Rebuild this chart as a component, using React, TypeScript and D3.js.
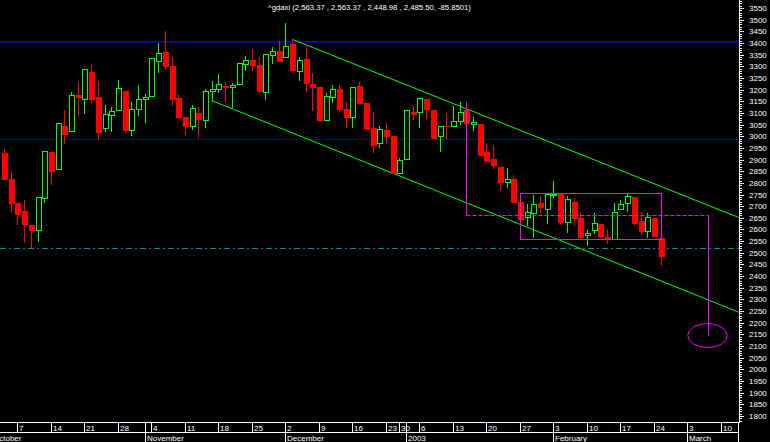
import React from "react";
import * as d3 from "d3";

const WIDTH = 770;
const HEIGHT = 442;

// OHLC of the daily candles, first candle = 3 Oct 2002, last = 25 Feb 2003
const opens = [
  2927, 2816, 2714, 2679, 2619, 2597, 2734, 2932, 2858, 3044,
  3024, 3177, 3158, 3275, 3168, 3034, 3092, 3111, 3194, 3028,
  3118, 3158, 3171, 3321, 3361, 3301, 3164, 3082, 3044, 3098,
  3068, 3195, 3203, 3215, 3212, 3223, 3308, 3327, 3305, 3188,
  3347, 3367, 3338, 3396, 3281, 3331, 3224, 3210, 3068, 3170,
  3201, 3117, 3081, 3215, 3142, 3035, 2972, 3027, 3001, 2844,
  2904, 3105, 3105, 3160, 3112, 3002, 3045, 3044, 3067, 3112,
  3051, 3052, 2932, 2902, 2868, 2805, 2816, 2718, 2654, 2669,
  2712, 2689, 2747, 2752, 2631, 2718, 2648, 2575, 2597, 2622,
  2568, 2559, 2687, 2712, 2738, 2636, 2592, 2649, 2563.37,
];
const highs = [
  2945, 2851, 2714, 2726, 2619, 2738, 2935, 2932, 3055, 3112,
  3190, 3233, 3287, 3304, 3237, 3133, 3125, 3241, 3194, 3145,
  3218, 3180, 3334, 3401, 3451, 3340, 3180, 3082, 3133, 3124,
  3201, 3237, 3267, 3228, 3230, 3313, 3344, 3374, 3340, 3351,
  3384, 3407, 3487, 3416, 3341, 3390, 3272, 3210, 3185, 3218,
  3221, 3147, 3210, 3233, 3142, 3104, 3044, 3055, 3001, 2907,
  3111, 3131, 3163, 3160, 3112, 3044, 3101, 3130, 3146, 3127,
  3081, 3052, 2971, 2962, 2868, 2864, 2834, 2718, 2709, 2747,
  2744, 2751, 2809, 2752, 2744, 2734, 2674, 2598, 2669, 2622,
  2601, 2712, 2726, 2752, 2738, 2674, 2672, 2649, 2563.37,
];
const lows = [
  2815, 2681, 2623, 2548, 2524, 2552, 2719, 2796, 2858, 2972,
  3024, 3088, 3101, 3148, 2989, 3024, 3024, 3111, 3018, 3006,
  3091, 3062, 3171, 3277, 3288, 3134, 3077, 3009, 3032, 2995,
  3041, 3152, 3191, 3151, 3124, 3223, 3285, 3285, 3191, 3158,
  3313, 3323, 3338, 3284, 3241, 3195, 3114, 3071, 3068, 3145,
  3105, 3038, 3038, 3144, 3030, 2934, 2955, 2970, 2844, 2844,
  2904, 3074, 3041, 3077, 2994, 2938, 2994, 3044, 3054, 3055,
  3027, 2921, 2895, 2864, 2771, 2782, 2719, 2646, 2619, 2569,
  2669, 2627, 2741, 2625, 2591, 2619, 2562, 2532, 2586, 2568,
  2541, 2559, 2687, 2681, 2619, 2581, 2569, 2571, 2448.98,
];
const closes = [
  2815, 2715, 2668, 2625, 2599, 2738, 2935, 2852, 3055, 3011,
  3175, 3168, 3287, 3158, 3019, 3094, 3107, 3206, 3028, 3115,
  3158, 3169, 3334, 3358, 3302, 3160, 3082, 3045, 3120, 3073,
  3194, 3201, 3223, 3210, 3218, 3313, 3326, 3307, 3195, 3351,
  3367, 3323, 3387, 3284, 3326, 3230, 3211, 3071, 3172, 3203,
  3115, 3082, 3210, 3144, 3030, 2962, 3030, 3002, 2844, 2898,
  3111, 3097, 3163, 3117, 2994, 3044, 3042, 3065, 3103, 3055,
  3060, 2921, 2895, 2875, 2805, 2816, 2719, 2646, 2674, 2708,
  2698, 2751, 2752, 2633, 2730, 2651, 2569, 2586, 2629, 2573,
  2564, 2676, 2709, 2744, 2627, 2595, 2652, 2571, 2485.5,
];

const titleText = "^gdaxi (2,563.37 , 2,563.37 , 2,448.98 , 2,485.50, -85.8501)";

// trading calendar
const holidays = ["2002-12-24", "2002-12-25", "2002-12-26", "2002-12-31", "2003-01-01"];
const calendarStart = new Date(2002, 9, 1);
const calendarEnd = new Date(2003, 2, 15);
const daysBeforeFirstCandle = 2;

// price axis
const priceLow = 1800;
const priceHigh = 3550;
const minorStep = 10;
const majorStep = 50;

// drawn studies
const resistanceLevel = 3400;
const supportLevel = 2988;
const octoberLow = 2522;
const upperChannel = [
  { i: 43, v: 3416 },
  { i: 109.7, v: 2651 },
];
const lowerChannel = [
  { i: 31, v: 3153 },
  { i: 109.7, v: 2245 },
];
const measuredMove = { i: 69, top: 3148, base: 2661, targetI: 105, target: 2145 };
const rangeBox = { i0: 77, i1: 98.1, hi: 2755, lo: 2558 };

const PLOT_R = 739;
const AXIS_Y = 422;
const ROW2_Y = 432;
const FONT = "'Liberation Sans', Arial, sans-serif";

export default function App() {
  const fmtKey = d3.timeFormat("%Y-%m-%d");
  const tradingDays = d3
    .timeDay.range(calendarStart, calendarEnd)
    .filter((d) => d.getDay() !== 0 && d.getDay() !== 6 && !holidays.includes(fmtKey(d)));

  const x = d3.scaleLinear().domain([-0.597, 109.7]).range([0, PLOT_R]);
  const y = d3.scaleLinear().domain([priceLow, priceHigh]).range([416, 8]);

  const candles = opens.map((o, i) => ({ i, o, h: highs[i], l: lows[i], c: closes[i] }));

  const dayTicks: { px: number; label: string | null }[] = [];
  const monthTicks: { px: number; label: string }[] = [];
  tradingDays.forEach((d, k) => {
    const idx = k - daysBeforeFirstCandle;
    const px = Math.round(x(idx));
    const prev = tradingDays[k - 1];
    const firstOfMonth = !prev || prev.getMonth() !== d.getMonth();
    const monday = d.getDay() === 1;
    if (monday || firstOfMonth) dayTicks.push({ px, label: monday ? String(d.getDate()) : null });
    if (firstOfMonth)
      monthTicks.push({ px, label: d.getMonth() === 0 ? String(d.getFullYear()) : d3.timeFormat("%B")(d) });
  });

  const priceTicks = d3.range(1780, 3590, minorStep).filter((v) => y(v) >= 0 && y(v) <= AXIS_Y);

  const yr = (v: number) => Math.round(y(v));
  const hline = (v: number) => yr(v) + 0.5;

  const channel = d3
    .line<{ i: number; v: number }>()
    .x((p) => x(p.i))
    .y((p) => y(p.v));

  return (
    <div style={{ position: "fixed", left: 0, top: 0 }}>
      <svg width={WIDTH} height={HEIGHT} style={{ display: "block", background: "#000" }}>
        <defs>
          <clipPath id="plot">
            <rect x={0} y={0} width={PLOT_R} height={AXIS_Y} />
          </clipPath>
        </defs>
        <rect x={0} y={0} width={WIDTH} height={HEIGHT} fill="#000" />

        <g clipPath="url(#plot)">
          {/* horizontal levels */}
          <line
            x1={0}
            x2={PLOT_R}
            y1={Math.floor(y(resistanceLevel)) - 0.25}
            y2={Math.floor(y(resistanceLevel)) - 0.25}
            stroke="#0000ff"
            strokeWidth={1.5}
          />
          <line x1={0} x2={PLOT_R} y1={hline(supportLevel)} y2={hline(supportLevel)} stroke="#0000d0" strokeWidth={1} />
          <line
            x1={0}
            x2={PLOT_R}
            y1={hline(octoberLow)}
            y2={hline(octoberLow)}
            stroke="#008c8c"
            strokeWidth={1}
            strokeDasharray="6,3,2,3"
          />

          {/* channel */}
          <path d={channel(upperChannel) || ""} stroke="#00ff00" strokeWidth={1} fill="none" />
          <path d={channel(lowerChannel) || ""} stroke="#00ff00" strokeWidth={1} fill="none" />

          {/* candles */}
          {candles.map((k) => {
            const cx = Math.round(x(k.i));
            const yh = yr(k.h);
            const yl = yr(k.l);
            const up = k.c >= k.o;
            const col = up ? "#00ff00" : "#ff0000";
            const yTop = yr(Math.max(k.o, k.c));
            const yBot = yr(Math.min(k.o, k.c));
            return (
              <g key={k.i} shapeRendering="crispEdges">
                <rect x={cx} y={yh} width={1} height={Math.max(1, yl - yh + 1)} fill={col} />
                {up ? (
                  <rect
                    x={cx - 1.5}
                    y={yTop + 0.5}
                    width={5}
                    height={Math.max(1, yBot - yTop)}
                    fill="#000"
                    stroke={col}
                    strokeWidth={1}
                  />
                ) : (
                  <rect x={cx - 2} y={yTop} width={6} height={Math.max(1, yBot - yTop + 1)} fill={col} />
                )}
              </g>
            );
          })}

          {/* measured move */}
          <g stroke="#ff00ff" strokeWidth={1} fill="none">
            <line
              x1={Math.round(x(measuredMove.i)) + 0.5}
              x2={Math.round(x(measuredMove.i)) + 0.5}
              y1={yr(measuredMove.top)}
              y2={hline(measuredMove.base)}
            />
            <line
              x1={Math.round(x(measuredMove.i)) + 0.5}
              x2={Math.round(x(measuredMove.targetI)) + 0.5}
              y1={hline(measuredMove.base)}
              y2={hline(measuredMove.base)}
              strokeDasharray="4,2"
            />
            <line
              x1={Math.round(x(measuredMove.targetI)) + 0.5}
              x2={Math.round(x(measuredMove.targetI)) + 0.5}
              y1={hline(measuredMove.base)}
              y2={y(measuredMove.target)}
            />
            <ellipse cx={x(measuredMove.targetI)} cy={y(measuredMove.target)} rx={19.7} ry={12} />
            <rect
              x={Math.round(x(rangeBox.i0)) + 0.5}
              y={hline(rangeBox.hi)}
              width={Math.round(x(rangeBox.i1)) - Math.round(x(rangeBox.i0))}
              height={yr(rangeBox.lo) - yr(rangeBox.hi)}
            />
          </g>
        </g>

        {/* title */}
        <text x={PLOT_R / 2} y={9.5} fill="#fff" fontSize={7.7} fontFamily={FONT} textAnchor="middle">
          {titleText}
        </text>

        {/* right price axis */}
        <g shapeRendering="crispEdges">
          <line x1={PLOT_R + 0.5} x2={PLOT_R + 0.5} y1={0} y2={AXIS_Y + 1} stroke="#fff" />
          {priceTicks.map((v) => {
            const major = v % majorStep === 0;
            const ty = hline(v);
            return (
              <line key={v} x1={PLOT_R} x2={PLOT_R + (major ? 4.5 : 2.5)} y1={ty} y2={ty} stroke="#fff" />
            );
          })}
        </g>
        {priceTicks
          .filter((v) => v % majorStep === 0 && v >= priceLow && v <= priceHigh)
          .map((v) => (
            <text key={v} x={749} y={y(v) + 3} fill="#fff" fontSize={8} fontFamily={FONT}>
              {d3.format("d")(v)}
            </text>
          ))}

        {/* bottom date axis */}
        <g shapeRendering="crispEdges" stroke="#fff">
          <line x1={0} x2={PLOT_R} y1={AXIS_Y + 0.5} y2={AXIS_Y + 0.5} />
          <line x1={0} x2={PLOT_R} y1={ROW2_Y + 0.5} y2={ROW2_Y + 0.5} />
          <line x1={PLOT_R - 1 + 0.5} x2={PLOT_R - 1 + 0.5} y1={AXIS_Y} y2={HEIGHT} />
          {dayTicks.map((t, k) => (
            <line key={"d" + k} x1={t.px + 0.5} x2={t.px + 0.5} y1={AXIS_Y} y2={ROW2_Y} />
          ))}
          {monthTicks.map((t, k) => (
            <line key={"m" + k} x1={t.px + 0.5} x2={t.px + 0.5} y1={ROW2_Y} y2={HEIGHT} />
          ))}
        </g>
        {dayTicks
          .filter((t) => t.label && t.px < PLOT_R - 6)
          .map((t, k) => (
            <text key={"dl" + k} x={t.px + 2} y={431} fill="#fff" fontSize={8} fontFamily={FONT}>
              {t.label}
            </text>
          ))}
        {monthTicks
          .filter((t) => t.px < PLOT_R - 6)
          .map((t, k) => (
            <text key={"ml" + k} x={t.px + 2} y={440.5} fill="#fff" fontSize={8} fontFamily={FONT}>
              {t.label}
            </text>
          ))}
      </svg>
    </div>
  );
}
